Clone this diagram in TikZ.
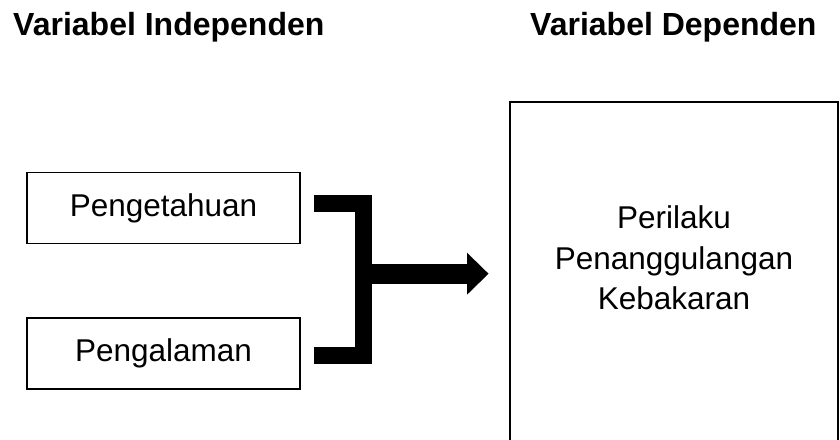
\documentclass[tikz,border=0pt]{standalone}
\usepackage{fontspec}
\setmainfont{Liberation Sans}
\usetikzlibrary{calc}
\begin{document}
\begin{tikzpicture}[x=1pt,y=-1pt,
  txt/.style={font=\fontsize{31.5}{40.5}\selectfont},
  title/.style={font=\fontsize{32}{40.5}\selectfont\bfseries, inner sep=0pt, anchor=base west},
  varbox/.style={draw, line width=1.6pt, minimum width=273pt, minimum height=71pt, inner sep=0pt, txt},
  bar/.style={line width=16.5pt, line join=miter, line cap=butt}
]
\clip (0,0) rectangle (840,439);
\useasboundingbox (0,0) rectangle (840,439);

\node[title] (t1) at (13,35) {Variabel Independen};
\node[title] (t2) at (530,35) {Variabel Dependen};

\node[varbox] (p1) at (163.5,208) {Pengetahuan};
\node[varbox] (p2) at (163.5,353.5) {Pengalaman};

\node[draw, line width=2pt, minimum width=328pt, minimum height=370pt, inner sep=0pt] (dep) at (674,287) {};
\node[txt, align=center, inner sep=0pt] (deptext) at (674,258) {Perilaku\\Penanggulangan\\Kebakaran};

% bracket
\coordinate (a1) at ($(p1.east)+(13,-4.5)$);
\coordinate (a2) at ($(p2.east)+(13,2)$);
\coordinate (j) at (363.5,273.7);
\coordinate (h) at (467,273.7);
\coordinate (tip) at (488.5,273.7);
\draw[bar] (a1) -| (363.5,355.5) -- (a2);
\draw[line width=20pt, line cap=butt] (j) -- (h);
\fill (467,252.7) -- (tip) -- (467,294.7) -- cycle;
\end{tikzpicture}
\end{document}
